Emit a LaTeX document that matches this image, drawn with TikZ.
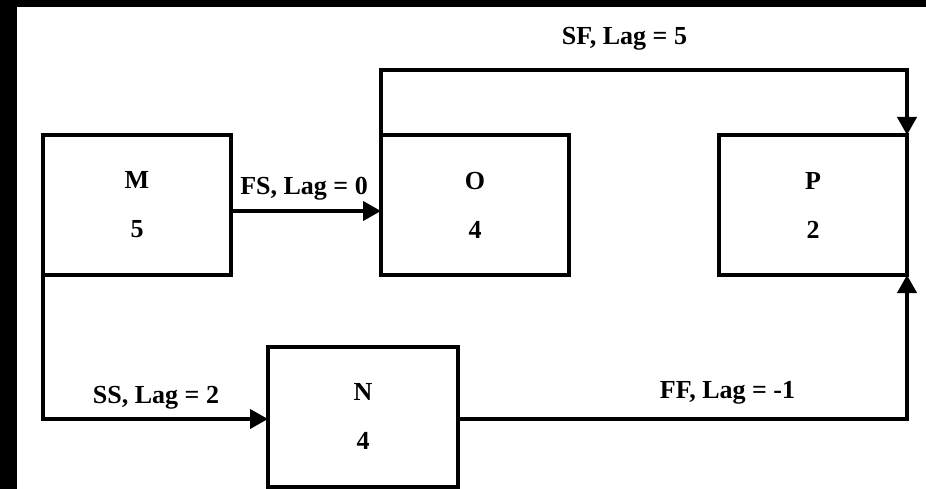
\documentclass[tikz,border=0pt]{standalone}
\usepackage{fontspec}
\setmainfont{Liberation Serif}
\usetikzlibrary{arrows.meta}
\begin{document}
\begin{tikzpicture}[x=1pt,y=-1pt,
  every node/.style={font=\bfseries\fontsize{26}{49}\selectfont},
  task/.style={draw,line width=4pt,minimum width=188pt,minimum height=140pt,
    align=center,inner sep=0pt,outer sep=0pt},
  link/.style={line width=4pt,-{Triangle[length=18pt,width=19pt]}},
  lag/.style={inner sep=0pt,anchor=base}]
\useasboundingbox (0,0) rectangle (926,489);
% frame strips along the top and left edges
\fill[black] (0,0) rectangle (926,7);
\fill[black] (0,0) rectangle (17,489);
% activities
\node[task] (M) at (137,205) {M\\5};
\node[task] (O) at (475,205) {O\\4};
\node[task] (P) at (813,205) {P\\2};
\node[task,minimum width=190pt] (N) at (363,416.5) {N\\4};
% dependencies
\draw[link] ([yshift=-6pt]M.east) -- ([yshift=-6pt]O.west);
\draw[link] (O.north west) -- ++(0,-65) -| (P.north east);
\draw[link] (M.south west) |- ([yshift=-2.5pt]N.west);
\draw[link] ([yshift=-2.5pt]N.east) -| (P.south east);
% lag labels
\node[lag] (lfs) at (304,195) {FS, Lag = 0};
\node[lag] (lsf) at (624.5,45) {SF, Lag = 5};
\node[lag] (lss) at (156,403) {SS, Lag = 2};
\node[lag] (lff) at (727.5,398) {FF, Lag = -1};
\end{tikzpicture}
\end{document}
